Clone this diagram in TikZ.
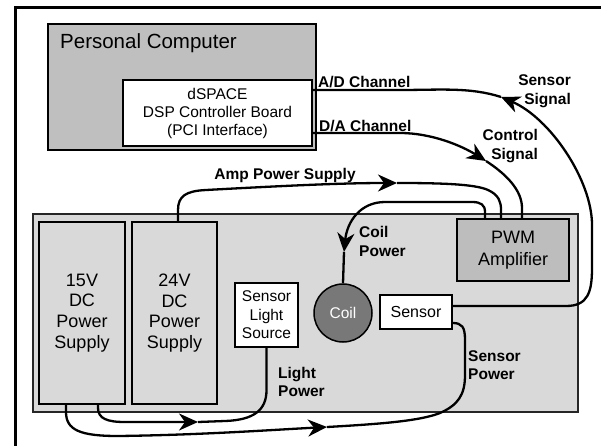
\documentclass[tikz,border=0pt]{standalone}
\usepackage{fontspec}
\setmainfont{Liberation Sans}
\usetikzlibrary{arrows.meta}
\definecolor{pcgray}{gray}{0.75}
\definecolor{basegray}{gray}{0.85}
\definecolor{pwmgray}{gray}{0.74}
\definecolor{coilgray}{gray}{0.47}
\tikzset{
  box/.style={draw=black, line width=1.5pt, inner sep=0pt, align=center},
  lbl/.style={font=\fontsize{15.5}{18.5}\selectfont\bfseries, inner sep=0pt},
  wire/.style={line width=2.3pt, line join=round},
  arr/.style={wire, -{Stealth[length=19pt,width=17pt,inset=6pt]}},
}
\begin{document}
\begin{tikzpicture}[x=1pt,y=-1pt]
\useasboundingbox (0,0) rectangle (601,446);
\draw[line width=3pt] (15,446) -- (15,8) -- (601,8);
% computer
\node[box, fill=pcgray, minimum width=268pt, minimum height=126pt] (pc) at (182,87) {};
\node[anchor=west, font=\fontsize{20.5}{24}\selectfont, inner sep=0pt] (pclabel) at (60,43) {Personal Computer};
\node[box, fill=white, minimum width=189pt, minimum height=66pt, font=\fontsize{15.5}{18}\selectfont] (dsp) at (217.5,113) {dSPACE\\DSP Controller Board\\(PCI Interface)};
% base
\node[box, draw=black!85, line width=1.2pt, fill=basegray, minimum width=545pt, minimum height=198pt] (base) at (305.5,313) {};
\node[box, fill=basegray, minimum width=86pt, minimum height=182pt, font=\fontsize{18}{20.7}\selectfont] (ps15) at (82,313) {15V\\DC\\Power\\Supply};
\node[box, fill=basegray, minimum width=85pt, minimum height=182pt, font=\fontsize{18}{20.7}\selectfont] (ps24) at (174.5,313) {24V\\DC\\Power\\Supply};
\node[box, fill=white, minimum width=63pt, minimum height=64pt, font=\fontsize{15.5}{18.5}\selectfont] (sls) at (266.5,315) {Sensor\\Light\\Source};
\node[circle, draw=black, line width=1.5pt, fill=coilgray, minimum size=58pt, inner sep=0pt, text=white, font=\fontsize{15.5}{18}\selectfont] (coil) at (343,313) {Coil};
\node[box, fill=white, minimum width=72pt, minimum height=34pt, font=\fontsize{16}{18}\selectfont] (sensor) at (416,312) {Sensor};
\node[box, fill=pwmgray, minimum width=112pt, minimum height=62pt, font=\fontsize{18}{21.5}\selectfont] (pwm) at (513,250) {PWM\\Amplifier};
% arrow tip points
\coordinate (ssA) at (501,97);
\coordinate (csA) at (486,161);
\coordinate (apA) at (397,183);
\coordinate (cpA) at (344,252);
\coordinate (lpA) at (198,422);
\coordinate (spA) at (327,427);
% sensor signal
\draw[arr] ([yshift=6pt]sensor.east) -- (566,306) .. controls (588,306) and (592,292) .. (592,268) -- (592,225) .. controls (592,180) and (550,118) .. (ssA);
\draw[wire] (ssA) .. controls (470,87) and (440,90) .. (400,90) -- ([yshift=23pt]dsp.east);
% control signal
\draw[arr] ([yshift=-20pt]dsp.east) -- (400,133) .. controls (432,133) and (462,146) .. (csA);
\draw[wire] (csA) .. controls (506,174) and (522,190) .. (522,208) -- ([xshift=9pt]pwm.north);
% amp power supply
\draw[arr] ([xshift=3.5pt]ps24.north) -- (178,210) .. controls (178,196) and (186,191) .. (206,190) .. controls (280,186) and (340,183) .. (apA);
\draw[wire] (apA) .. controls (440,183) and (475,184) .. (488,190) .. controls (499,195) and (501,202) .. (501,210) -- ([xshift=-12pt]pwm.north);
% coil power
\draw[arr] ([xshift=-28pt]pwm.north) -- (485,212) .. controls (485,205) and (481,202) .. (472,202) -- (385,202) .. controls (360,202) and (347,222) .. (cpA);
\draw[wire] (cpA) -- (coil.north);
% light power
\draw[arr] ([xshift=16pt]ps15.south) -- (98,408) .. controls (98,419) and (108,422) .. (125,422) -- (lpA);
\draw[wire] (lpA) -- (225,421) .. controls (254,420) and (266.5,410) .. (266.5,390) -- (sls.south);
% sensor power
\draw[arr] ([xshift=-16pt]ps15.south) -- (66,412) .. controls (66,430) and (80,436) .. (118,436) .. controls (200,435) and (270,430) .. (spA);
\draw[wire] (spA) .. controls (380,424) and (420,421) .. (440,413) .. controls (458,405) and (465,395) .. (465,375) -- (465,340) .. controls (465,327) and (462,323) .. ([yshift=-11pt]sensor.east);
% labels
\node[lbl, anchor=west] (adl) at (318,82) {A/D Channel};
\node[lbl, anchor=west] (dal) at (319,126) {D/A Channel};
\node[lbl, align=right, anchor=east] (ssl) at (571,91) {Sensor\\Signal};
\node[lbl, align=right, anchor=east] (csl) at (538,146) {Control\\Signal};
\node[lbl] (apl) at (285,175) {Amp Power Supply};
\node[lbl, align=left, anchor=west] (cpl) at (359,241.5) {Coil\\Power};
\node[lbl, align=left, anchor=west] (lpl) at (278,382) {Light\\Power};
\node[lbl, align=left, anchor=west] (spl) at (468,365) {Sensor\\Power};
\end{tikzpicture}
\end{document}
